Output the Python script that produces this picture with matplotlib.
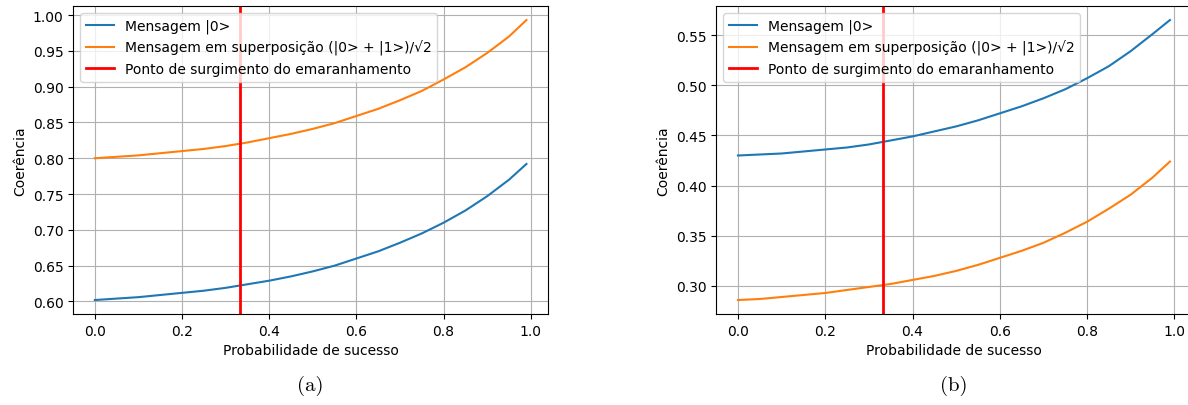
import matplotlib.pyplot as plt

# probabilidade de sucesso (eixo x)
prob = [0.0, 0.05, 0.10, 0.15, 0.20, 0.25, 0.30, 0.35, 0.40, 0.45, 0.50,
        0.55, 0.60, 0.65, 0.70, 0.75, 0.80, 0.85, 0.90, 0.95, 0.99]

# (a)
coer_a_zero = [0.602, 0.604, 0.606, 0.609, 0.612, 0.615, 0.619, 0.624, 0.629, 0.635, 0.642,
               0.650, 0.660, 0.670, 0.682, 0.695, 0.710, 0.727, 0.747, 0.770, 0.792]
coer_a_sup = [0.800, 0.802, 0.804, 0.807, 0.810, 0.813, 0.817, 0.822, 0.828, 0.834, 0.841,
              0.849, 0.859, 0.869, 0.881, 0.894, 0.910, 0.927, 0.947, 0.970, 0.993]

# (b)
coer_b_zero = [0.430, 0.431, 0.432, 0.434, 0.436, 0.438, 0.441, 0.445, 0.449, 0.454, 0.459,
               0.465, 0.472, 0.479, 0.487, 0.496, 0.507, 0.519, 0.534, 0.551, 0.565]
coer_b_sup = [0.286, 0.287, 0.289, 0.291, 0.293, 0.296, 0.299, 0.302, 0.306, 0.310, 0.315,
              0.321, 0.328, 0.335, 0.343, 0.353, 0.364, 0.377, 0.391, 0.408, 0.424]

p_emaranhamento = 1 / 3

labels = ["Mensagem |0>",
          "Mensagem em superposição (|0> + |1>)/\u221a2",
          "Ponto de surgimento do emaranhamento"]

fig = plt.figure(figsize=(11.88, 4.06), dpi=100)
ax_a = fig.add_axes([0.0617, 0.2241, 0.3996, 0.7586])
ax_b = fig.add_axes([0.6030, 0.2241, 0.4000, 0.7586])

for ax, zero, sup, cap in [(ax_a, coer_a_zero, coer_a_sup, "(a)"),
                           (ax_b, coer_b_zero, coer_b_sup, "(b)")]:
    ax.plot(prob, zero, color="tab:blue", lw=1.5, label=labels[0])
    ax.plot(prob, sup, color="tab:orange", lw=1.5, label=labels[1])
    ax.axvline(p_emaranhamento, color="red", lw=2, label=labels[2])
    ax.set_xlabel("Probabilidade de sucesso", fontsize=10)
    ax.set_ylabel("Coerência", fontsize=10)
    ax.tick_params(labelsize=10)
    ax.set_xticks([0.0, 0.2, 0.4, 0.6, 0.8, 1.0])
    ax.grid(True)
    ax.legend(loc="upper left", fontsize=10)
    x0, x1 = ax.get_position().x0, ax.get_position().x1
    fig.text((x0 + x1) / 2, 0.05, cap, ha="center", va="center",
             fontsize=15, family="cmr10")

fig.savefig("out.png", dpi=100)
